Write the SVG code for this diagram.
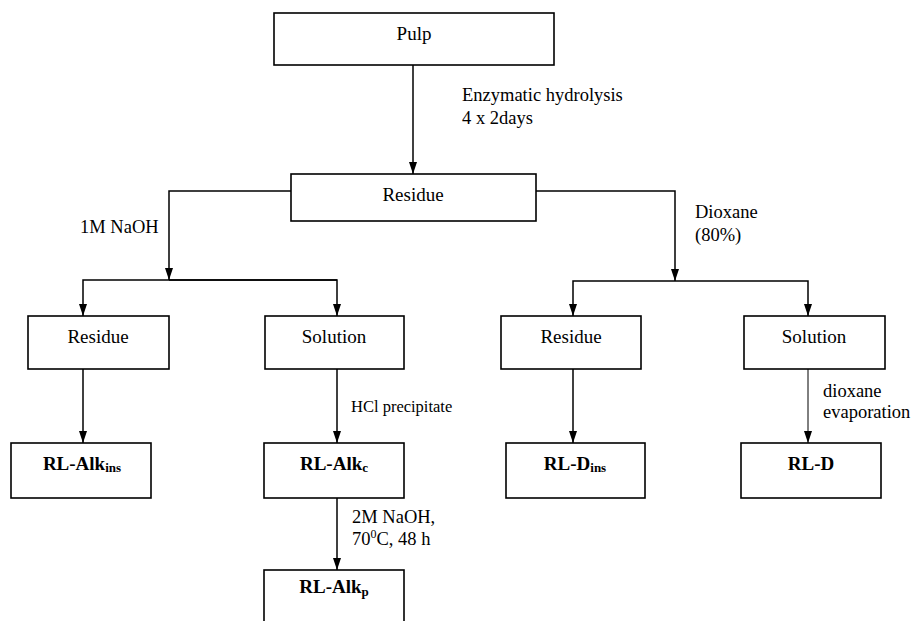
<svg xmlns="http://www.w3.org/2000/svg" width="915" height="621" viewBox="0 0 915 621">
<defs>
<marker id="ah" viewBox="0 0 12 8" refX="12" refY="4" markerWidth="12" markerHeight="8" markerUnits="userSpaceOnUse" orient="auto">
<path d="M0,0 L12,4 L0,8 z" fill="#000"/>
</marker>
<style>
.box{fill:#fff;stroke:#000;stroke-width:1.6}
text{font-family:'Liberation Serif','Times New Roman','DejaVu Serif',serif}
.lbl{font-size:19px;fill:#000;text-anchor:middle}
.bold{font-weight:bold}
.sub{font-size:13px}
.ann{font-size:18.5px;fill:#000}
.small{font-size:16.5px}
.c{fill:none;stroke:#000;stroke-width:1.5}
.thin{stroke-width:1}
.arr{marker-end:url(#ah)}
</style>
</defs>
<g id="connectors">
<line class="c arr" x1="413" y1="65" x2="413" y2="174"/>
<polyline class="c arr" points="291,191 169,191 169,280"/>
<polyline class="c arr" points="536,191 675,191 675,281"/>
<polyline class="c arr" points="337,280 83,280 83,316"/>
<polyline class="c arr" points="169,280 337,280 337,316"/>
<polyline class="c arr" points="675,281 573,281 573,316"/>
<polyline class="c arr" points="675,281 808,281 808,316"/>
<line class="c arr" x1="83" y1="369" x2="83" y2="443"/>
<line class="c arr" x1="337" y1="369" x2="337" y2="443"/>
<line class="c arr" x1="573" y1="369" x2="573" y2="443"/>
<line class="c thin arr" x1="808" y1="369" x2="808" y2="443"/>
<line class="c arr" x1="337" y1="498" x2="337" y2="570"/>
</g>
<g id="annotations" font-family="Liberation Serif, serif">
<text class="ann" x="462" y="101">Enzymatic hydrolysis</text>
<text class="ann" x="462" y="124">4 x 2days</text>
<text class="ann" x="80" y="233">1M NaOH</text>
<text class="ann" x="695" y="218">Dioxane</text>
<text class="ann" x="695" y="241">(80%)</text>
<text class="ann small" x="351" y="412">HCl precipitate</text>
<text class="ann" x="823" y="397">dioxane</text>
<text class="ann" x="823" y="418">evaporation</text>
<text class="ann" x="352" y="523">2M NaOH,</text>
<text class="ann" x="352" y="545">70<tspan font-size="12" dy="-7">0</tspan><tspan dy="7">C, 48 h</tspan></text>
</g>
<g id="pulp">
<rect class="box" x="274" y="13" width="280" height="52"/>
<text class="lbl" x="414" y="40">Pulp</text>
</g>
<g id="residue0">
<rect class="box" x="291" y="174" width="245" height="47"/>
<text class="lbl" x="413" y="201">Residue</text>
</g>
<g id="residue1">
<rect class="box" x="28" y="316" width="141" height="53"/>
<text class="lbl" x="98" y="343">Residue</text>
</g>
<g id="solution1">
<rect class="box" x="265" y="316" width="139" height="53"/>
<text class="lbl" x="334" y="343">Solution</text>
</g>
<g id="residue2">
<rect class="box" x="501" y="316" width="140" height="53"/>
<text class="lbl" x="571" y="343">Residue</text>
</g>
<g id="solution2">
<rect class="box" x="744" y="316" width="141" height="53"/>
<text class="lbl" x="814" y="343">Solution</text>
</g>
<g id="rl-alk-ins">
<rect class="box" x="11" y="443" width="140" height="55"/>
<text class="lbl bold" x="82" y="470">RL-Alk<tspan class="sub" dy="2">ins</tspan></text>
</g>
<g id="rl-alk-c">
<rect class="box" x="264" y="443" width="140" height="55"/>
<text class="lbl bold" x="334" y="470">RL-Alk<tspan class="sub" dy="2">c</tspan></text>
</g>
<g id="rl-d-ins">
<rect class="box" x="506" y="443" width="139" height="55"/>
<text class="lbl bold" x="575" y="470">RL-D<tspan class="sub" dy="2">ins</tspan></text>
</g>
<g id="rl-d">
<rect class="box" x="741" y="443" width="140" height="55"/>
<text class="lbl bold" x="811" y="470">RL-D</text>
</g>
<g id="rl-alk-p">
<rect class="box" x="264" y="570" width="140" height="60"/>
<text class="lbl bold" x="334" y="593">RL-Alk<tspan class="sub" dy="3">p</tspan></text>
</g>
</svg>
